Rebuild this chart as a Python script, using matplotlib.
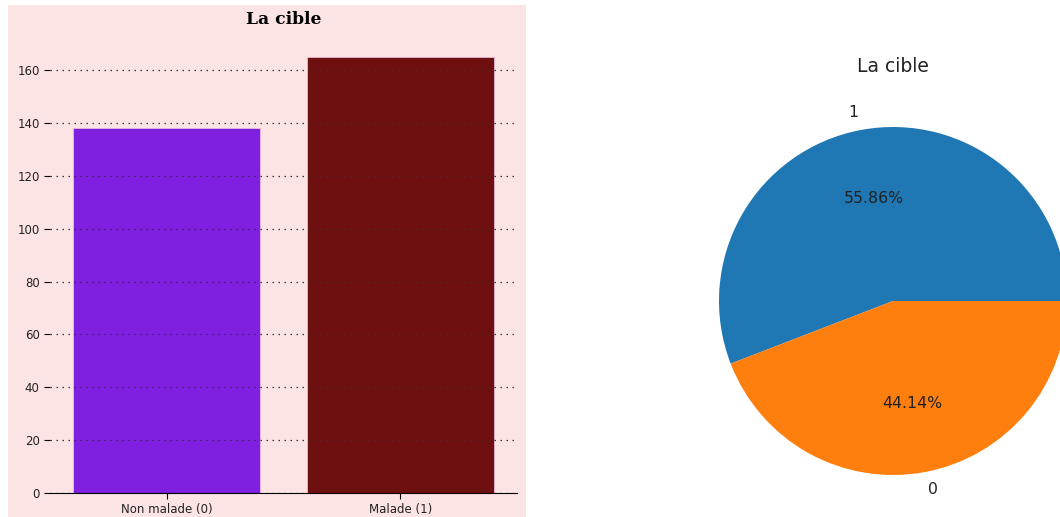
import matplotlib
matplotlib.use("Agg")
import matplotlib.pyplot as plt
from matplotlib.patches import Rectangle

# Target counts
categories = ["Non malade (0)", "Malade (1)"]
counts = [138, 165]
bar_colors = ["#7f20e0", "#6f1010"]

# Target share shown in the pie
pie_labels = ["1", "0"]
pie_shares = [55.86, 44.14]
pie_colors = ["#1f77b4", "#ff7f0e"]

yticks = [0, 20, 40, 60, 80, 100, 120, 140, 160]

W, H = 1060, 517
fig = plt.figure(figsize=(W / 100, H / 100), dpi=100)
fig.patch.set_facecolor("white")

bg = "#fde4e4"
fig.patches.append(Rectangle((8 / W, 0), (526 - 8) / W, 1 - 5 / H,
                             transform=fig.transFigure, facecolor=bg,
                             edgecolor="none", zorder=-10))

# Bar chart
ax = fig.add_axes([50 / W, 1 - 493 / H, 467 / W, (493 - 35) / H])
ax.set_facecolor(bg)
x = list(range(len(categories)))
ax.bar(x, counts, width=0.8, color=bar_colors, edgecolor="#e9b8d8",
       linewidth=0.6, zorder=1)
ax.set_xlim(-0.5, 1.5)
ax.set_ylim(0, max(counts) * 1.05)
ax.set_xticks(x)
ax.set_xticklabels(categories, fontsize=8.5, color="#222222")
ax.set_yticks(yticks)
ax.tick_params(axis="y", labelsize=8.5, labelcolor="#222222", length=4)
ax.tick_params(axis="x", length=4)
ax.yaxis.grid(True, linestyle=(0, (1.2, 3.6)), color="#333333", linewidth=0.9, zorder=3)
ax.set_axisbelow(False)
for s in ["top", "right", "left"]:
    ax.spines[s].set_visible(False)
ax.set_title("La cible", fontsize=12.3, fontweight="bold", family="DejaVu Serif", pad=8)

# Pie chart
ax2 = fig.add_axes([675.5 / W, 1 - 518.5 / H, 435 / W, 435 / H])
ax2.pie(pie_shares, labels=pie_labels, colors=pie_colors, autopct="%.2f%%",
        textprops={"fontsize": 11.3, "color": "#222222"})
ax2.set_title("La cible", fontsize=13.5, color="#222222", pad=8)

fig.savefig("out.png", dpi=100)
